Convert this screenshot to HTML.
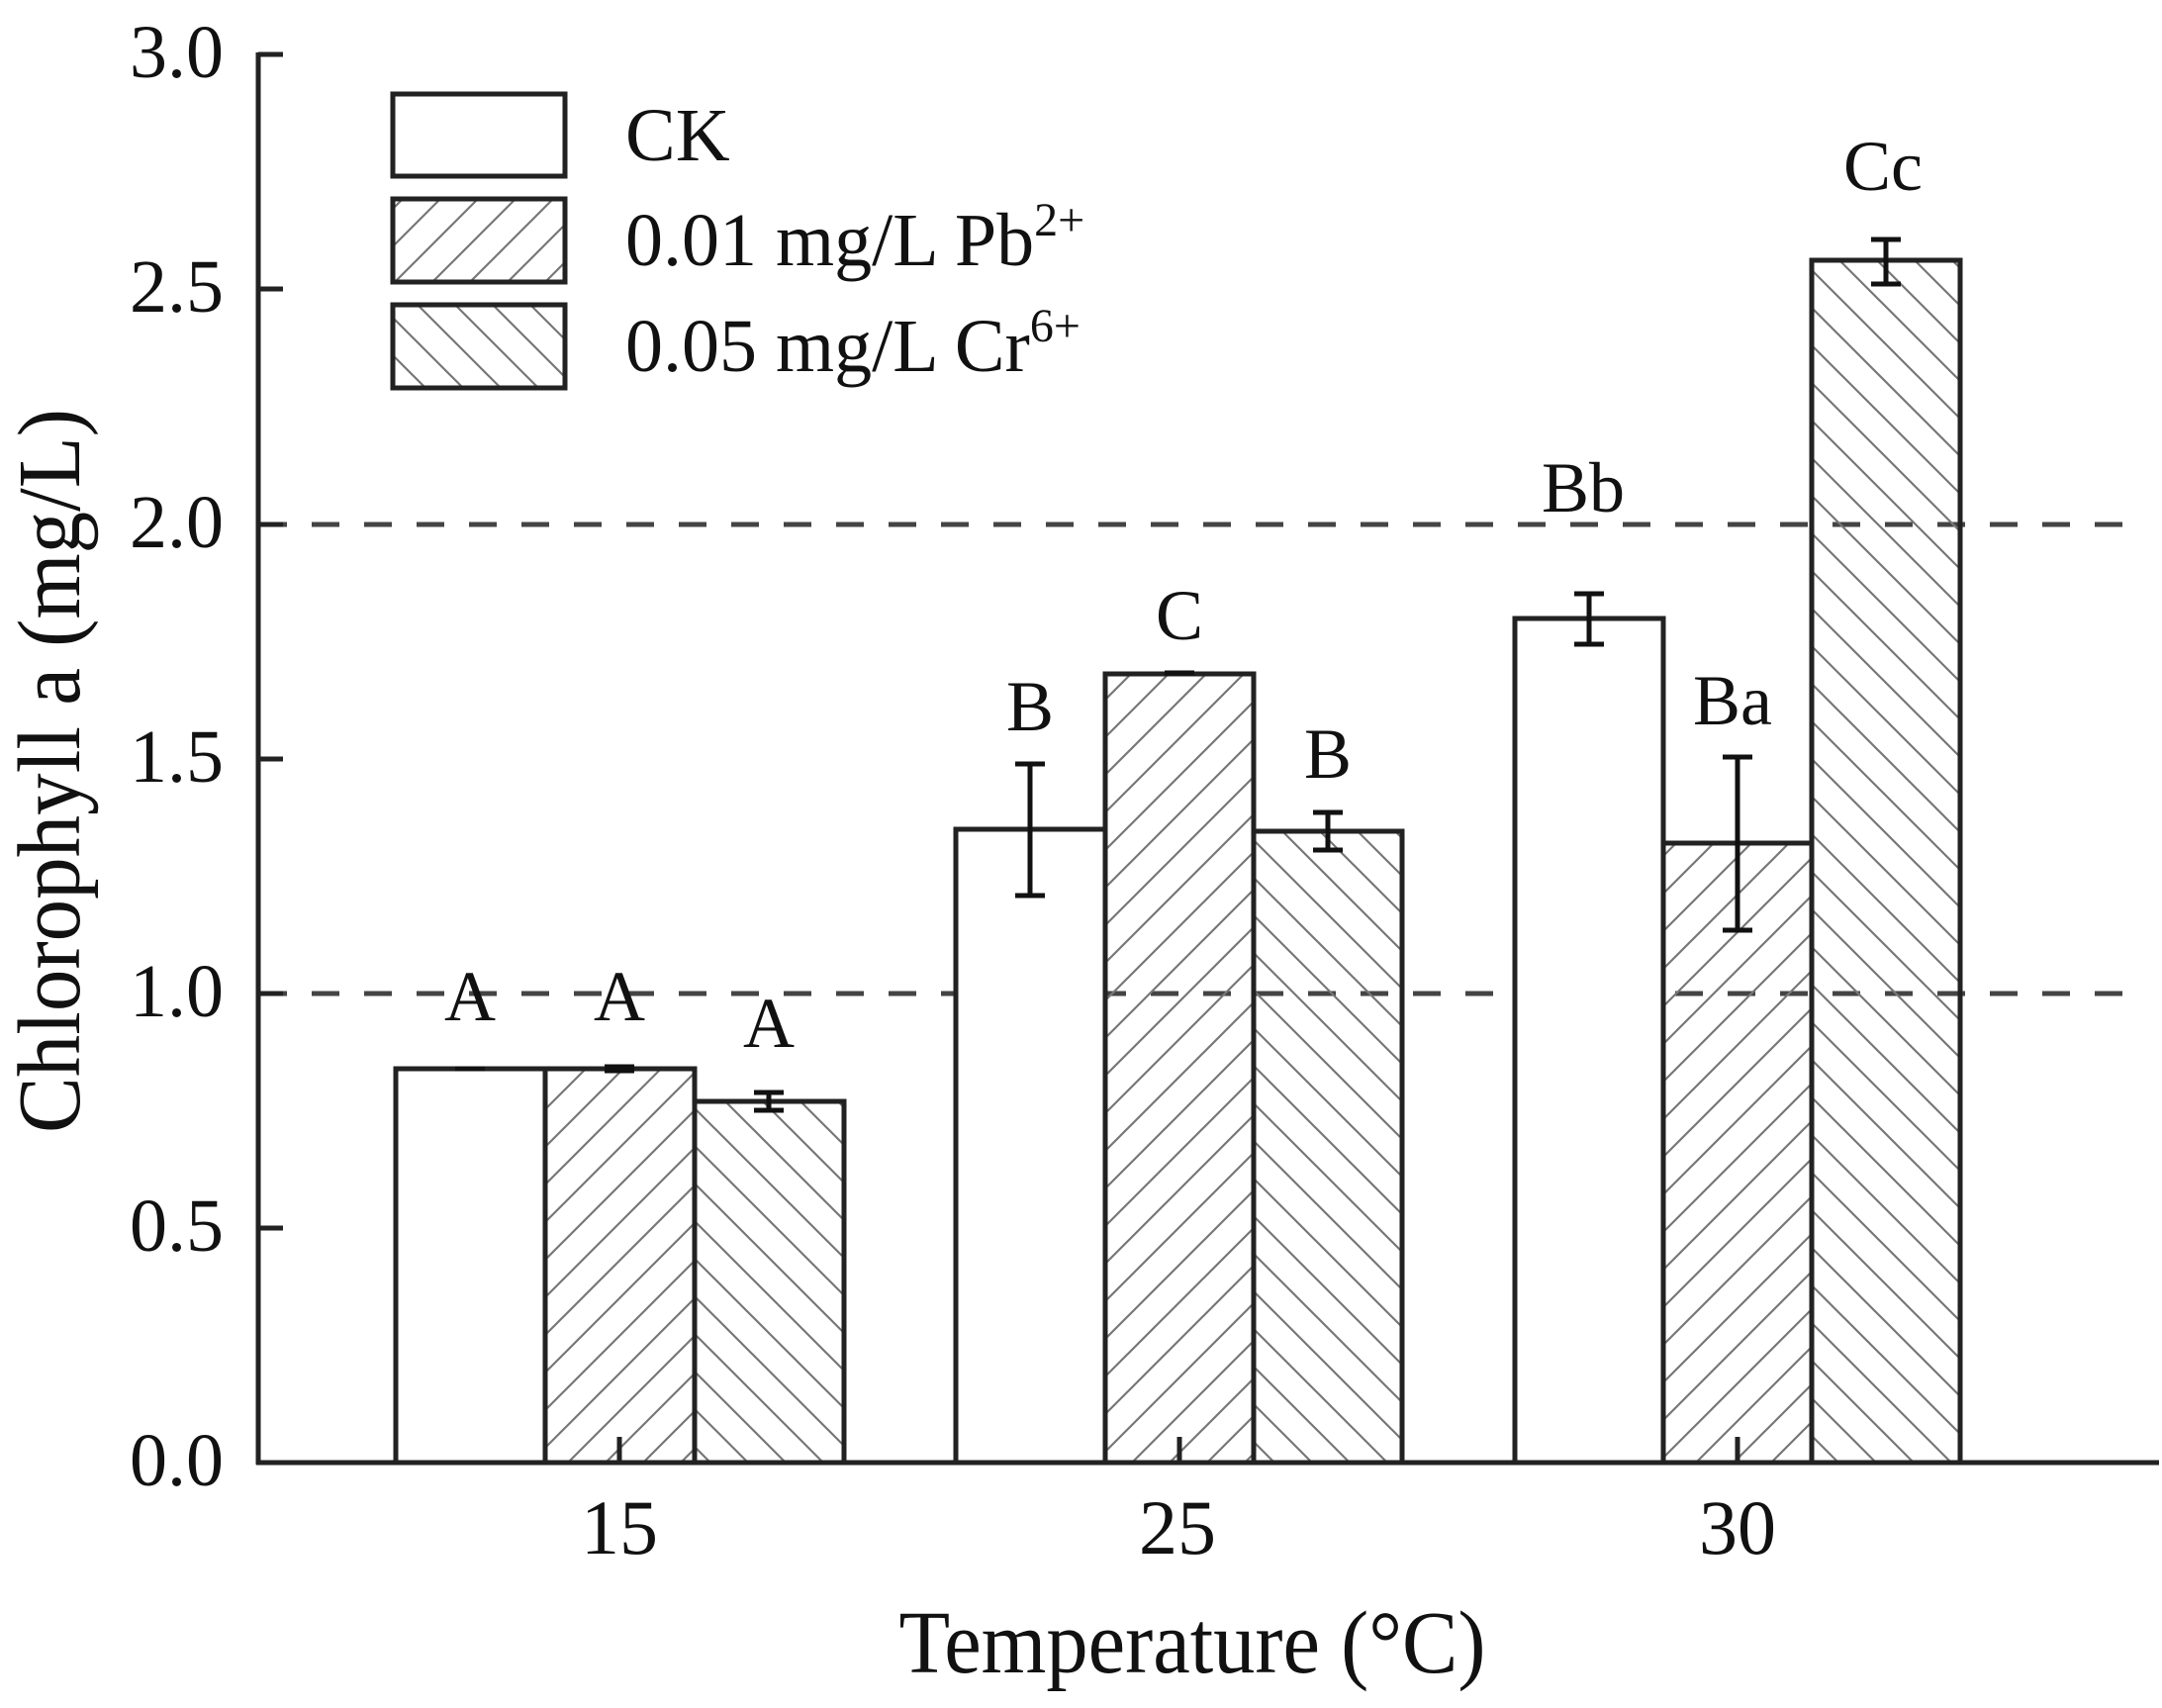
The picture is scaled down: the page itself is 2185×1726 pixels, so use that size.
<!DOCTYPE html>
<html><head><meta charset="utf-8"><style>html,body{margin:0;padding:0;background:#fff}svg{display:block}</style></head>
<body>
<svg xmlns="http://www.w3.org/2000/svg" width="2185" height="1726" viewBox="0 0 2185 1726" font-family="'Liberation Serif', serif" fill="#111">
<defs>
<pattern id="hf" patternUnits="userSpaceOnUse" width="38" height="38" patternTransform="rotate(0)">
<path d="M-10,10 L10,-10 M0,38 L38,0 M28,48 L48,28" stroke="#777" stroke-width="2.2"/>
</pattern>
<pattern id="hb" patternUnits="userSpaceOnUse" width="38" height="38">
<path d="M-10,28 L10,48 M0,0 L38,38 M28,-10 L48,10" stroke="#777" stroke-width="2.2"/>
</pattern>
</defs>
<!-- dashed lines -->
<g stroke="#444" stroke-width="5" stroke-dasharray="28,25">
<line x1="262" y1="1004" x2="2160" y2="1004"/>
<line x1="262" y1="530" x2="2160" y2="530"/>
</g>
<!-- bars -->
<g stroke="#222" stroke-width="5">
<!-- y = 1478 - 474.3 v -->
<rect x="400" y="1080" width="151" height="398" fill="#fff"/>
<rect x="551" y="1080" width="151" height="398" fill="url(#hf)"/>
<rect x="702" y="1113" width="151" height="365" fill="url(#hb)"/>
<rect x="966" y="838" width="151" height="640" fill="#fff"/>
<rect x="1117" y="681" width="150" height="797" fill="url(#hf)"/>
<rect x="1267" y="840" width="150" height="638" fill="url(#hb)"/>
<rect x="1531" y="625" width="150" height="853" fill="#fff"/>
<rect x="1681" y="852" width="150" height="626" fill="url(#hf)"/>
<rect x="1831" y="263" width="150" height="1215" fill="url(#hb)"/>
</g>
<!-- error bars -->
<g stroke="#111" stroke-width="5" fill="none">
<path d="M460,1080 h30"/>
<path d="M611,1078 h30 M611,1082 h30 M626,1078 v4"/>
<path d="M762,1104 h30 M762,1122 h30 M777,1104 v18"/>
<path d="M1026,772 h30 M1026,905 h30 M1041,772 v133"/>
<path d="M1177,680 h30"/>
<path d="M1327,821 h30 M1327,859 h30 M1342,821 v38"/>
<path d="M1591,600 h30 M1591,651 h30 M1606,600 v51"/>
<path d="M1741,765 h30 M1741,940 h30 M1756,765 v175"/>
<path d="M1891,242 h30 M1891,287 h30 M1906,242 v45"/>
</g>
<!-- axes -->
<g stroke="#222" stroke-width="5" fill="none">
<line x1="261" y1="53" x2="261" y2="1480"/>
<line x1="259" y1="1478" x2="2182" y2="1478"/>
<path d="M261,55 h25 M261,292 h25 M261,767 h25 M261,1241 h25 M261,530 h25 M261,1004 h25"/>
<path d="M626,1478 v-26 M1192,1478 v-26 M1756,1478 v-26"/>
</g>
<!-- y tick labels -->
<g font-size="76" text-anchor="end">
<text x="226" y="78">3.0</text>
<text x="226" y="315">2.5</text>
<text x="226" y="553">2.0</text>
<text x="226" y="790">1.5</text>
<text x="226" y="1027">1.0</text>
<text x="226" y="1264">0.5</text>
<text x="226" y="1501">0.0</text>
</g>
<g font-size="78" text-anchor="middle">
<text x="626" y="1570">15</text>
<text x="1190" y="1570">25</text>
<text x="1756" y="1570">30</text>
</g>
<text x="1205" y="1690" font-size="90" text-anchor="middle" textLength="593" lengthAdjust="spacingAndGlyphs">Temperature (°C)</text>
<text transform="translate(80,779) rotate(-90)" font-size="90" text-anchor="middle" textLength="732" lengthAdjust="spacingAndGlyphs">Chlorophyll a (mg/L)</text>
<!-- significance labels -->
<g font-size="72" text-anchor="middle">
<text x="475" y="1031">A</text>
<text x="626" y="1031">A</text>
<text x="777" y="1058">A</text>
<text x="1041" y="738">B</text>
<text x="1192" y="646">C</text>
<text x="1342" y="786">B</text>
<text x="1600" y="517">Bb</text>
<text x="1751" y="732">Ba</text>
<text x="1903" y="192">Cc</text>
</g>
<!-- legend -->
<g stroke="#222" stroke-width="5">
<rect x="397" y="95" width="174" height="83" fill="#fff"/>
<rect x="397" y="201" width="174" height="84" fill="url(#hf)"/>
<rect x="397" y="308" width="174" height="84" fill="url(#hb)"/>
</g>
<g font-size="76">
<text x="632" y="162">CK</text>
<text x="632" y="268">0.01 mg/L Pb<tspan font-size="48" dy="-30">2+</tspan></text>
<text x="632" y="375">0.05 mg/L Cr<tspan font-size="48" dy="-30">6+</tspan></text>
</g>
</svg>
</body></html>
